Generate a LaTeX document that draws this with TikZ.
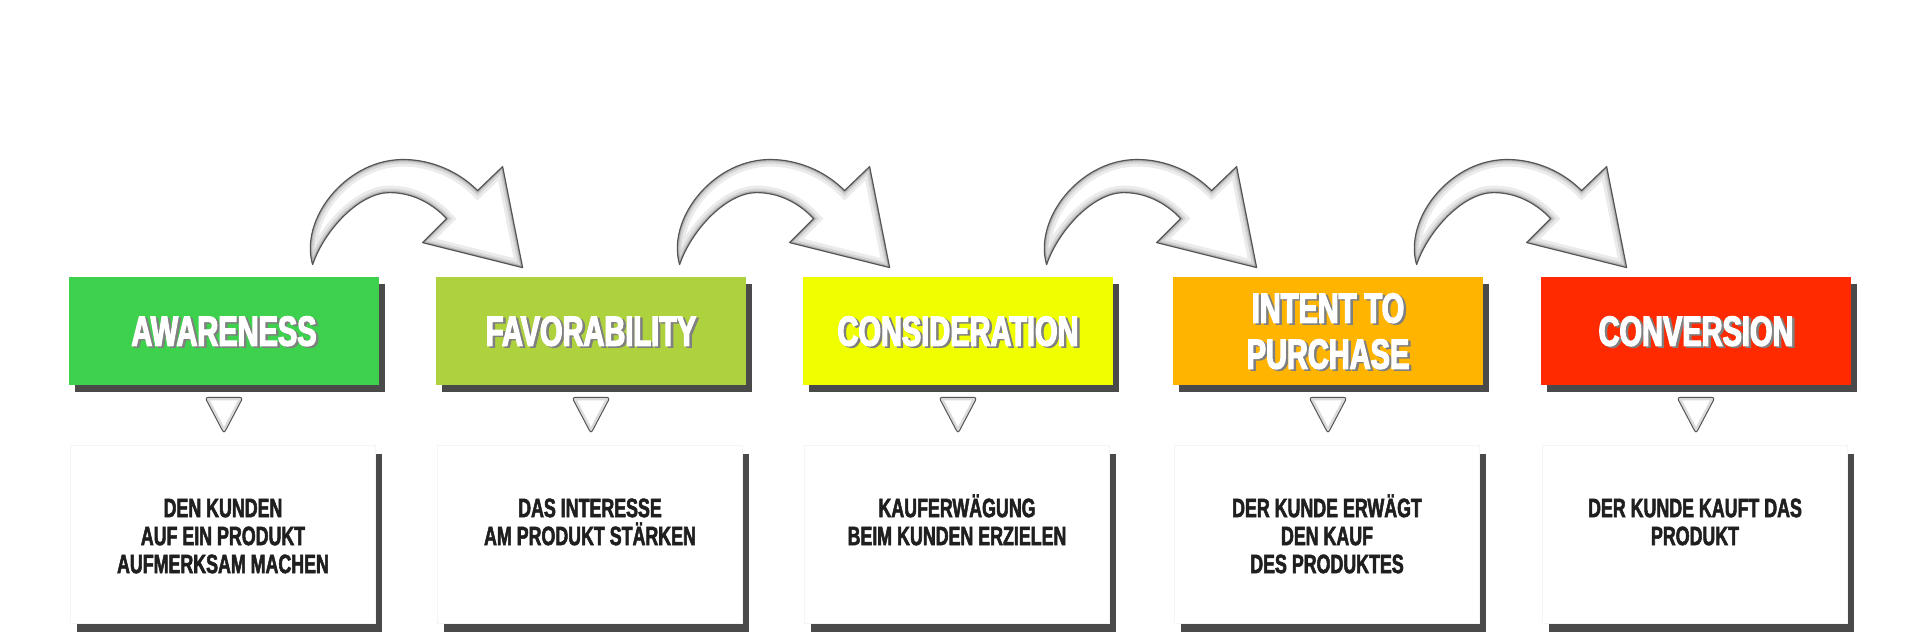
\documentclass[tikz,border=0pt]{standalone}
\usepackage{fontspec}
\newfontfamily\titlefont{Liberation Sans}[FakeStretch=0.69,FakeBold=3]
\newfontfamily\descfont{Liberation Sans}[FakeStretch=0.67,FakeBold=2]
\usetikzlibrary{shadows}
\definecolor{cA}{RGB}{62,209,78}
\definecolor{cB}{RGB}{174,209,62}
\definecolor{cC}{RGB}{240,255,0}
\definecolor{cD}{RGB}{255,180,0}
\definecolor{cE}{RGB}{255,42,0}
\definecolor{shadowgray}{RGB}{74,74,74}
\definecolor{edgegray}{RGB}{85,85,85}
\newcommand\bendarrowpath[1]{\path[#1] (0,0) .. controls (-13,-45) and (32,-102.8) .. (87,-105)
  .. controls (112,-106) and (142,-97) .. (165,-74) -- (190,-98) -- (210,3) -- (110,-22) -- (134,-46)
  .. controls (119,-62) and (99,-72) .. (77,-72) .. controls (47,-72) and (12,-35) .. (0,0) -- cycle;}
\newcommand\tripath[1]{\path[#1] (-19,0) -- (19,0) -- (0,36) -- cycle;}
\tikzset{
  titlebox/.style={minimum width=155pt, minimum height=54pt, inner sep=0pt,
    drop shadow={shadow xshift=3pt, shadow yshift=-3.5pt, fill=shadowgray, opacity=1}},
  descbox/.style={fill=white, draw=black!4, line width=0.3pt, minimum width=152.5pt, minimum height=89pt, inner sep=0pt,
    drop shadow={shadow xshift=3.5pt, shadow yshift=-4.5pt, fill=shadowgray, opacity=1}},
  titletext/.style={font=\titlefont\bfseries\fontsize{21}{23}\selectfont, text=white, align=center, inner sep=0pt, text depth=0pt},
  titleshadow/.style={titletext, text=black!50},
  desctext/.style={font=\descfont\bfseries\fontsize{13.3}{14}\selectfont, text=black!88, align=center, inner sep=0pt, anchor=north},
  bendarrow/.pic={
    \bendarrowpath{fill=white}
    \begin{scope}
      \bendarrowpath{clip}
      \bendarrowpath{draw=black!8, line width=7pt}
      \bendarrowpath{draw=black!16, line width=4pt}
      \bendarrowpath{draw=black!30, line width=1.8pt}
    \end{scope}
    \bendarrowpath{draw=edgegray, line width=0.6pt, line join=round}
  },
  downtri/.pic={
    \tripath{fill=white, rounded corners=1.5pt}
    \begin{scope}
      \tripath{clip, rounded corners=1.5pt}
      \tripath{draw=black!14, line width=3pt, rounded corners=1.5pt}
    \end{scope}
    \tripath{draw=edgegray, line width=0.5pt, rounded corners=1.5pt}
  }
}
\begin{document}
\begin{tikzpicture}[x=0.5pt,y=-0.5pt]
\useasboundingbox[fill=white] (0,0) rectangle (1920,640);
% title boxes
\node[titlebox, fill=cA] (b1) at (224,331) {};
\node[titlebox, fill=cB] (b2) at (591,331) {};
\node[titlebox, fill=cC] (b3) at (958,331) {};
\node[titlebox, fill=cD] (b4) at (1328,331) {};
\node[titlebox, fill=cE] (b5) at (1696,331) {};
% title texts
\node[titleshadow] (l1s) at (226.5,332.5) {AWARENESS};
\node[titletext] (l1) at (b1.center) {AWARENESS};
\node[titleshadow] (l2s) at (593.5,332.5) {FAVORABILITY};
\node[titletext] (l2) at (b2.center) {FAVORABILITY};
\node[titleshadow] (l3s) at (960.5,332.5) {CONSIDERATION};
\node[titletext] (l3) at (b3.center) {CONSIDERATION};
\node[titleshadow] (l4s) at (1330.5,332.5) {INTENT TO\\PURCHASE};
\node[titletext] (l4) at (b4.center) {INTENT TO\\PURCHASE};
\node[titleshadow] (l5s) at (1698.5,332.5) {CONVERSION};
\node[titletext] (l5) at (b5.center) {CONVERSION};
% bent arrows
\pic (a1) at ([shift={(244,-12)}]b1.north west) {bendarrow};
\pic (a2) at ([shift={(244,-12)}]b2.north west) {bendarrow};
\pic (a3) at ([shift={(244,-12)}]b3.north west) {bendarrow};
\pic (a4) at ([shift={(244,-12)}]b4.north west) {bendarrow};
% small triangles
\pic (t1) at ([shift={(0,12)}]b1.south) {downtri};
\pic (t2) at ([shift={(0,12)}]b2.south) {downtri};
\pic (t3) at ([shift={(0,12)}]b3.south) {downtri};
\pic (t4) at ([shift={(0,12)}]b4.south) {downtri};
\pic (t5) at ([shift={(0,12)}]b5.south) {downtri};
% description boxes
\node[descbox] (d1) at (222.5,534) {};
\node[descbox] (d2) at (589.5,534) {};
\node[descbox] (d3) at (956.5,534) {};
\node[descbox] (d4) at (1326.5,534) {};
\node[descbox] (d5) at (1694.5,534) {};
% description texts
\node[desctext] (x1) at (223,494) {\vphantom{Ä}DEN KUNDEN\\AUF EIN PRODUKT\\AUFMERKSAM MACHEN};
\node[desctext] (x2) at (590,494) {\vphantom{Ä}DAS INTERESSE\\AM PRODUKT STÄRKEN};
\node[desctext] (x3) at (957,494) {\vphantom{Ä}KAUFERWÄGUNG\\BEIM KUNDEN ERZIELEN};
\node[desctext] (x4) at (1327,494) {\vphantom{Ä}DER KUNDE ERWÄGT\\DEN KAUF\\DES PRODUKTES};
\node[desctext] (x5) at (1695,494) {\vphantom{Ä}DER KUNDE KAUFT DAS\\PRODUKT};
\end{tikzpicture}
\end{document}
